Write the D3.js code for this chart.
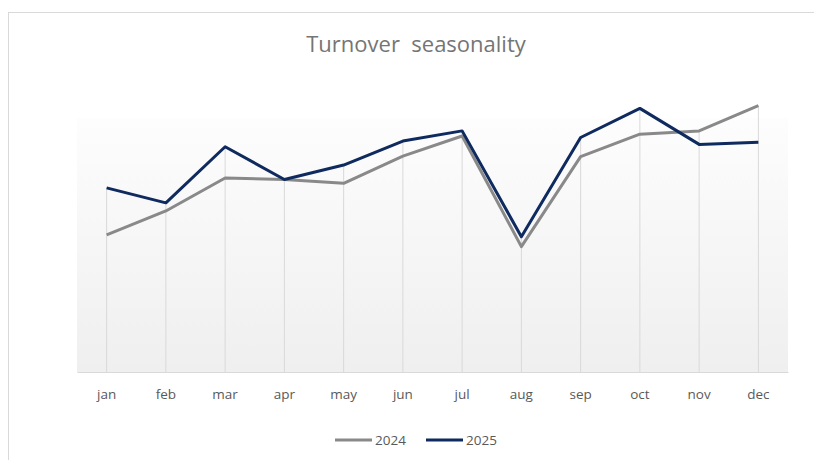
<!DOCTYPE html>
<html>
<head>
<meta charset="utf-8">
<script src="https://cdn.jsdelivr.net/npm/d3@7"></script>
<style>
  body { margin: 0; background: #fff; }
  svg { display: block; font-family: "Open Sans", "Noto Sans", sans-serif; }
</style>
</head>
<body>
<svg id="chart" width="814" height="460"></svg>
<script>
// data (arbitrary units, no y axis shown)
var months = ["jan","feb","mar","apr","may","jun","jul","aug","sep","oct","nov","dec"];
var values2024 = [45.7, 53.7, 64.7, 64.2, 62.9, 72.0, 78.7, 41.8, 71.8, 79.3, 80.4, 88.8];
var values2025 = [61.4, 56.4, 75.1, 64.2, 69.0, 77.0, 80.4, 45.1, 78.2, 87.9, 75.9, 76.6];
var seriesNames = ["2024", "2025"];
var colours = ["#898989", "#0e2a5e"];

var svg = d3.select("#chart");

//Chart border
svg.append("rect")
  .attr("x", 8.5).attr("y", 12.5)
  .attr("width", 820).attr("height", 460)
  .attr("fill", "#fff")
  .attr("stroke", "#d9d9d9");

var plotLeft = 77, plotRight = 788, plotTop = 88, plotBottom = 372;
var bgTop = 118;

var x = d3.scaleBand().domain(months).range([plotLeft, plotRight]);
var y = d3.scaleLinear().domain([0, 94.7]).range([plotBottom, plotTop]);
var cx = function (m) { return x(m) + x.bandwidth() / 2; };

//Plot background gradient
var grad = svg.append("defs").append("linearGradient")
  .attr("id", "bg").attr("x1", 0).attr("y1", 0).attr("x2", 0).attr("y2", 1);
grad.append("stop").attr("offset", "0%").attr("stop-color", "#fdfdfd");
grad.append("stop").attr("offset", "100%").attr("stop-color", "#efefef");

svg.append("rect")
  .attr("x", plotLeft).attr("y", bgTop)
  .attr("width", plotRight - plotLeft).attr("height", plotBottom - bgTop)
  .attr("fill", "url(#bg)");

//Drop lines from the higher point of each month down to the axis
svg.selectAll(".drop")
  .data(months)
  .enter().append("line")
  .attr("class", "drop")
  .attr("x1", cx).attr("x2", cx)
  .attr("y1", function (d, i) { return y(Math.max(values2024[i], values2025[i])); })
  .attr("y2", plotBottom)
  .attr("stroke", "#d9d9d9");

//X axis
var xAxis = svg.append("g")
  .attr("transform", "translate(0," + plotBottom + ")")
  .call(d3.axisBottom(x).tickSize(0).tickPadding(17));
xAxis.select(".domain").attr("stroke", "#d9d9d9");
xAxis.selectAll("text")
  .attr("fill", "#595959")
  .style("font-size", "13.5px")
  .style("font-family", "\"Open Sans\", sans-serif");

//Lines
var line = d3.line()
  .x(function (d, i) { return cx(months[i]); })
  .y(function (d) { return y(d); });

[values2024, values2025].forEach(function (vals, i) {
  svg.append("path")
    .datum(vals)
    .attr("fill", "none")
    .attr("stroke", colours[i])
    .attr("stroke-width", 3)
    .attr("stroke-linejoin", "round")
    .attr("d", line);
});

//Title
svg.append("text")
  .attr("x", 416).attr("y", 52)
  .attr("text-anchor", "middle")
  .attr("fill", "#757575")
  .attr("xml:space", "preserve")
  .style("font-size", "22px")
  .style("font-family", "\"Open Sans\", sans-serif")
  .text("Turnover  seasonality");

//Legend
var legend = svg.append("g");
var legendX = [335, 426];
seriesNames.forEach(function (name, i) {
  legend.append("line")
    .attr("x1", legendX[i]).attr("x2", legendX[i] + 37)
    .attr("y1", 440).attr("y2", 440)
    .attr("stroke", colours[i]).attr("stroke-width", 3);
  legend.append("text")
    .attr("x", legendX[i] + 40).attr("y", 445)
    .attr("fill", "#595959")
    .style("font-size", "13.5px")
    .text(name);
});
</script>
</body>
</html>
